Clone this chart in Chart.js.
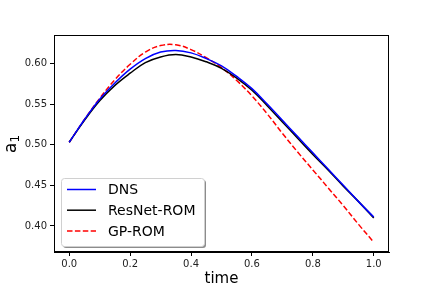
<!DOCTYPE html>
<html>
<head>
<meta charset="utf-8">
<script src="https://cdn.jsdelivr.net/npm/chart.js@4"></script>
<style>
  html, body { margin: 0; padding: 0; background: #fff; }
  #wrap { width: 432px; height: 288px; }
</style>
</head>
<body>
<div id="wrap"><canvas id="a1Chart" width="432" height="288"></canvas></div>
<script>
// values
const times = [0, 0.05, 0.1, 0.15, 0.2, 0.25, 0.3, 0.35, 0.4, 0.45, 0.5,
               0.55, 0.6, 0.65, 0.7, 0.75, 0.8, 0.85, 0.9, 0.95, 1.0];
const dnsValues = [0.503, 0.531, 0.556, 0.576, 0.593, 0.606, 0.614, 0.616, 0.613, 0.606, 0.597,
                   0.584, 0.569, 0.550, 0.530, 0.510, 0.490, 0.470, 0.450, 0.430, 0.411];
const resnetValues = [0.503, 0.530, 0.554, 0.573, 0.588, 0.601, 0.608, 0.611, 0.608, 0.602, 0.594,
                      0.582, 0.567, 0.548, 0.528, 0.508, 0.488, 0.469, 0.449, 0.430, 0.410];
const gpValues = [0.503, 0.531, 0.557, 0.580, 0.599, 0.614, 0.622, 0.623, 0.617, 0.607, 0.595,
                  0.579, 0.560, 0.538, 0.514, 0.491, 0.469, 0.447, 0.425, 0.402, 0.380];
const xTicks = [0.0, 0.2, 0.4, 0.6, 0.8, 1.0];
const yTicks = [0.40, 0.45, 0.50, 0.55, 0.60];

const FONT = "'DejaVu Sans', sans-serif";

function points(values) {
    return times.map((t, i) => ({ x: t, y: values[i] }));
}

// top and right spines, like matplotlib
const framePlugin = {
    id: 'frame',
    afterDraw(chart) {
        const { ctx, chartArea: a } = chart;
        ctx.save();
        ctx.strokeStyle = '#000';
        ctx.lineWidth = 1;
        ctx.strokeRect(Math.round(a.left) + 0.5, Math.round(a.top) + 0.5,
                       Math.round(a.right - a.left) - 1, Math.round(a.bottom - a.top) - 1);
        ctx.restore();
    }
};

// y label "a" with subscript 1
const yLabelPlugin = {
    id: 'yLabel',
    afterDraw(chart) {
        const ctx = chart.ctx;
        ctx.save();
        ctx.translate(16, 144);
        ctx.rotate(-Math.PI / 2);
        ctx.fillStyle = '#000';
        ctx.textBaseline = 'alphabetic';
        ctx.font = '17px ' + FONT;
        const aw = ctx.measureText('a').width;
        ctx.font = '12px ' + FONT;
        const sw = ctx.measureText('1').width;
        const x0 = -(aw + sw) / 2;
        ctx.font = '17px ' + FONT;
        ctx.fillText('a', x0, 0);
        ctx.font = '12px ' + FONT;
        ctx.fillText('1', x0 + aw, 3);
        ctx.restore();
    }
};

// legend box in lower left with a shadow
const legendPlugin = {
    id: 'boxLegend',
    afterDraw(chart) {
        const ctx = chart.ctx;
        const x = 61, y = 178, w = 143, h = 68;
        ctx.save();
        ctx.fillStyle = 'rgba(0,0,0,0.45)';
        ctx.beginPath();
        ctx.roundRect(x + 2, y + 2, w, h, 3);
        ctx.fill();
        ctx.fillStyle = '#fff';
        ctx.strokeStyle = '#d0d0d0';
        ctx.lineWidth = 1;
        ctx.beginPath();
        ctx.roundRect(x + 0.5, y + 0.5, w, h, 3);
        ctx.fill();
        ctx.stroke();

        ctx.font = '14px ' + FONT;
        ctx.textBaseline = 'middle';
        chart.data.datasets.forEach((ds, i) => {
            const rowY = 189.5 + i * 20.7;
            ctx.strokeStyle = ds.borderColor;
            ctx.lineWidth = ds.borderWidth;
            ctx.setLineDash(ds.borderDash || []);
            ctx.beginPath();
            ctx.moveTo(67, rowY);
            ctx.lineTo(96, rowY);
            ctx.stroke();
            ctx.setLineDash([]);
            ctx.fillStyle = '#000';
            ctx.fillText(ds.label, 108, rowY + 1);
        });
        ctx.restore();
    }
};

new Chart(document.getElementById('a1Chart'), {
    type: 'line',
    data: {
        datasets: [
            {
                label: 'DNS',
                data: points(dnsValues),
                borderColor: '#0000ff',
                borderWidth: 1.5
            },
            {
                label: 'ResNet-ROM',
                data: points(resnetValues),
                borderColor: '#000000',
                borderWidth: 1.5
            },
            {
                label: 'GP-ROM',
                data: points(gpValues),
                borderColor: '#ff0000',
                borderWidth: 1.5,
                borderDash: [5.5, 2.4]
            }
        ]
    },
    options: {
        responsive: false,
        animation: false,
        devicePixelRatio: 1,
        layout: { padding: { left: 0, right: 43, top: 35, bottom: 0 } },
        elements: {
            point: { radius: 0 },
            line: { tension: 0.4, fill: false }
        },
        plugins: {
            legend: { display: false },
            tooltip: { enabled: false }
        },
        scales: {
            x: {
                type: 'linear',
                min: -0.05,
                max: 1.05,
                afterBuildTicks: axis => { axis.ticks = xTicks.map(v => ({ value: v })); },
                afterFit: axis => { axis.height = 36; },
                grid: { drawOnChartArea: false, drawTicks: true, tickLength: 4, color: '#000' },
                border: { display: true, color: '#000', width: 1 },
                ticks: {
                    color: '#222',
                    font: { family: FONT, size: 10 },
                    padding: 2,
                    maxRotation: 0,
                    callback: v => v.toFixed(1)
                },
                title: {
                    display: true,
                    text: 'time',
                    color: '#000',
                    font: { family: FONT, size: 15 },
                    padding: { top: 0, bottom: 0 }
                }
            },
            y: {
                type: 'linear',
                min: 0.368,
                max: 0.635,
                afterBuildTicks: axis => { axis.ticks = yTicks.map(v => ({ value: v })); },
                afterFit: axis => { axis.width = 54; },
                grid: { drawOnChartArea: false, drawTicks: true, tickLength: 4, color: '#000' },
                border: { display: true, color: '#000', width: 1 },
                ticks: {
                    color: '#222',
                    font: { family: FONT, size: 10 },
                    padding: 3,
                    callback: v => v.toFixed(2)
                }
            }
        }
    },
    plugins: [framePlugin, yLabelPlugin, legendPlugin]
});
</script>
</body>
</html>
